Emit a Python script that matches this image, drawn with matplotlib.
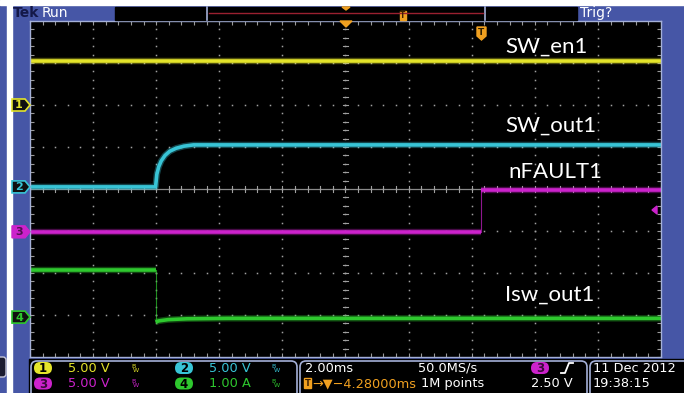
import numpy as np
import matplotlib.pyplot as plt
from matplotlib.patches import Rectangle, FancyBboxPatch, Polygon

# time axis: ms relative to trigger, 2 ms/div, 10 divisions
t_left, t_right = -14.28, 5.72
ms_per_div = 2.0

# channel 1 - SW_en1 (V)
sw_en1_t = [-14.28, 5.72]
sw_en1_v = [5.2, 5.2]

# channel 2 - SW_out1 (V)
sw_out1_t = [-14.28, -10.30, -10.26, -10.20, -10.12, -10.0, -9.85, -9.65, -9.4, -9.1, 5.72]
sw_out1_v = [0.0, 0.0, 1.5, 2.4, 3.1, 3.75, 4.25, 4.6, 4.85, 5.0, 5.0]

# channel 3 - nFAULT1 (V)
nfault1_t = [-14.28, 0.0, 0.0, 5.72]
nfault1_v = [0.0, 0.0, 5.0, 5.0]

# channel 4 - Isw_out1 (A)
isw_out1_t = [-14.28, -10.30, -10.30, -10.2, -9.9, -9.3, -8.0, 5.72]
isw_out1_a = [1.12, 1.12, -0.12, -0.09, -0.06, -0.04, -0.03, -0.03]

ch_offset = [2.0, 0.05, -1.02, -3.05]   # divisions
ch_scale = [5.0, 5.0, 5.0, 1.0]         # units per division
ch_color = ['#e4e42a', '#38c4d6', '#cc22cc', '#2ec82e']
labels = ['SW_en1', 'SW_out1', 'nFAULT1', 'Isw_out1']

BLUE = '#4656a6'
FRAME = '#a4b0d8'
ORANGE = '#f0a020'

fig = plt.figure(figsize=(6.84, 3.93), dpi=100, facecolor=BLUE)

# scope screen
ax = fig.add_axes([30/684, 1-357/393, 631/684, 336/393])
ax.set_facecolor('black')
ax.set_xlim(t_left, t_right)
ax.set_ylim(-4, 4)
for s in ax.spines.values():
    s.set_color(FRAME)
    s.set_linewidth(1)
ax.set_xticks(np.arange(t_left, t_right + 0.01, 0.4))
ax.set_yticks(np.arange(-4, 4.01, 0.2))
ax.tick_params(direction='in', length=3, width=0.8, color='#9a9a9a',
               top=True, right=True, labelbottom=False, labelleft=False)

# graticule dots
x_major = t_left + ms_per_div*np.arange(1, 10)
y_major = np.arange(-3, 4)
y_minor = np.arange(-4, 4.01, 0.2)
x_minor = np.arange(t_left, t_right + 0.01, 0.4)
for xm in x_major:
    ax.plot(np.full_like(y_minor, xm), y_minor, ls='none', marker='s', ms=1.1, mew=0, color='#a0a0a0')
for ym in y_major:
    ax.plot(x_minor, np.full_like(x_minor, ym), ls='none', marker='s', ms=1.1, mew=0, color='#a0a0a0')
xc = (t_left + t_right)/2
ax.axhline(0, color='#8a8a8a', lw=0.9)
for xm in x_minor:
    ax.plot([xm, xm], [-0.07, 0.07], color='#a0a0a0', lw=0.8)
for ym in y_minor:
    ax.plot([xc-0.09, xc+0.09], [ym, ym], color='#a0a0a0', lw=0.8)


def draw_trace(t, v, off, scale, color):
    t = np.asarray(t, float)
    y = off + np.asarray(v, float)/scale
    cuts = list(np.where(np.diff(t) == 0)[0])
    start = 0
    for c in cuts + [len(t)-1]:
        seg = slice(start, c+1)
        ax.plot(t[seg], y[seg], color=color, lw=4.6, alpha=0.35, solid_capstyle='butt')
        ax.plot(t[seg], y[seg], color=color, lw=2.6, solid_capstyle='butt')
        if c < len(t)-1:
            ax.plot([t[c], t[c+1]], [y[c], y[c+1]], color=color, lw=0.8, alpha=0.7)
        start = c+1


draw_trace(sw_en1_t, sw_en1_v, ch_offset[0], ch_scale[0], ch_color[0])
draw_trace(sw_out1_t, sw_out1_v, ch_offset[1], ch_scale[1], ch_color[1])
draw_trace(nfault1_t, nfault1_v, ch_offset[2], ch_scale[2], ch_color[2])
draw_trace(isw_out1_t, isw_out1_a, ch_offset[3], ch_scale[3], ch_color[3])

# overlay in pixel coordinates
ov = fig.add_axes([0, 0, 1, 1], zorder=5)
ov.set_xlim(0, 684)
ov.set_ylim(393, 0)
ov.axis('off')

ov.add_patch(Rectangle((0, 0), 684, 5, color='white'))
ov.add_patch(Rectangle((7, 0), 5, 393, color='white'))
ov.add_patch(FancyBboxPatch((-6, 357), 12, 20, boxstyle='round,pad=0,rounding_size=3',
                            fc='#1c1c30', ec='#c8c8d8', lw=1))

# top bar
ov.text(13, 13, 'Tek', color='#141848', fontsize=10, fontweight='bold', va='center')
ov.text(42, 13, 'Run', color='white', fontsize=10, va='center')
ov.add_patch(Rectangle((115, 7), 92, 13, color='black'))
ov.add_patch(Rectangle((207, 7), 278, 13, color='black'))
ov.add_patch(Rectangle((485, 7), 92, 13, color='black'))
ov.plot([207, 207], [7, 20], color=FRAME, lw=1.2)
ov.plot([485, 485], [7, 20], color=FRAME, lw=1.2)
ov.plot([209, 483], [13, 13], color='#9a2030', lw=1)
ov.add_patch(Polygon([[342, 7], [350, 7], [346, 10]], color=ORANGE))
ov.add_patch(Rectangle((400, 11), 6, 9, color=ORANGE))
ov.text(403, 15.5, 'T', color='#402000', fontsize=5.5, ha='center', va='center', fontweight='bold')
ov.text(580, 12.5, 'Trig?', color='white', fontsize=10, va='center')

# markers on the screen
ov.add_patch(Polygon([[340, 21], [352, 21], [346, 27]], color=ORANGE))
ov.add_patch(Polygon([[477, 27], [486, 27], [486, 36], [481.5, 40], [477, 36]], color=ORANGE))
ov.text(481.5, 32.5, 'T', color='#302000', fontsize=6.5, ha='center', va='center', fontweight='bold')
ov.add_patch(Polygon([[657, 206], [657, 214], [652, 210]], color=ch_color[2]))

# channel ground markers on the left
for i in range(4):
    yg = 189 - ch_offset[i]*42
    pts = [[12, yg-6], [25, yg-6], [30, yg], [25, yg+6], [12, yg+6]]
    if i == 2:
        ov.add_patch(Polygon(pts, fc=ch_color[i], ec=ch_color[i], lw=1))
        ov.text(19, yg+0.5, str(i+1), color='#501050', fontsize=8, ha='center', va='center', fontweight='bold')
    else:
        ov.add_patch(Polygon(pts, fc='#101010', ec=ch_color[i], lw=1.2))
        ov.text(19, yg+0.5, str(i+1), color=ch_color[i], fontsize=8, ha='center', va='center', fontweight='bold')

# waveform labels
label_pos = [(505, 47), (505, 126), (508, 172), (505, 295)]
for lab, (lx, ly) in zip(labels, label_pos):
    ov.text(lx, ly, lab, color='white', fontsize=16, family='Lato', va='center')

# status bar
ov.add_patch(Rectangle((29, 359), 655, 34, color='black'))
for x0, w in [(31, 266), (300, 287), (590, 100)]:
    ov.add_patch(FancyBboxPatch((x0, 361), w, 40, boxstyle='round,pad=0,rounding_size=6',
                                fc='black', ec=FRAME, lw=1.2))


def pill(x, y, txt, color, tcolor='black'):
    ov.add_patch(FancyBboxPatch((x-9, y-6), 18, 12, boxstyle='round,pad=0,rounding_size=6',
                                fc=color, ec='none'))
    ov.text(x, y+0.5, txt, color=tcolor, fontsize=8.5, ha='center', va='center', fontweight='bold')


def bw(x, y, color):
    ov.text(x, y-2, 'B', color=color, fontsize=4.5, ha='center', va='center')
    ov.text(x+3, y+2, 'W', color=color, fontsize=4.5, ha='center', va='center')


rows = [368, 383.5]
vdiv_text = ['5.00 V', '5.00 V', '5.00 V', '1.00 A']
for i in range(4):
    cx = 43 if i in (0, 2) else 184
    y = rows[0] if i in (0, 1) else rows[1]
    pill(cx, y, str(i+1), ch_color[i], '#3a0a3a' if i == 2 else 'black')
    ov.text(cx+25, y, vdiv_text[i], color=ch_color[i], fontsize=9.3, va='center')
    bw(cx+90, y, ch_color[i])

ov.text(305, rows[0], '2.00ms', color='white', fontsize=9.3, va='center')
ov.text(418, rows[0], '50.0MS/s', color='white', fontsize=9.3, va='center')
pill(540, rows[0], '3', ch_color[2], '#3a0a3a')
ov.plot([561, 565, 569, 573], [373, 373, 363, 363], color='white', lw=1.3)
ov.add_patch(Rectangle((304, 378), 7, 10, color=ORANGE))
ov.text(307.5, 383.5, 'T', color='#402000', fontsize=6, ha='center', va='center', fontweight='bold')
ov.text(312, rows[1], '\u2192\u25bc\u22124.28000ms', color=ORANGE, fontsize=9.3, va='center')
ov.text(421, rows[1], '1M points', color='white', fontsize=9.3, va='center')
ov.text(573, rows[1], '2.50 V', color='white', fontsize=9.3, va='center', ha='right')
ov.text(593, rows[0], '11 Dec 2012', color='white', fontsize=9.3, va='center')
ov.text(593, rows[1], '19:38:15', color='white', fontsize=9.3, va='center')

fig.savefig('out.png', dpi=100, facecolor=fig.get_facecolor())
